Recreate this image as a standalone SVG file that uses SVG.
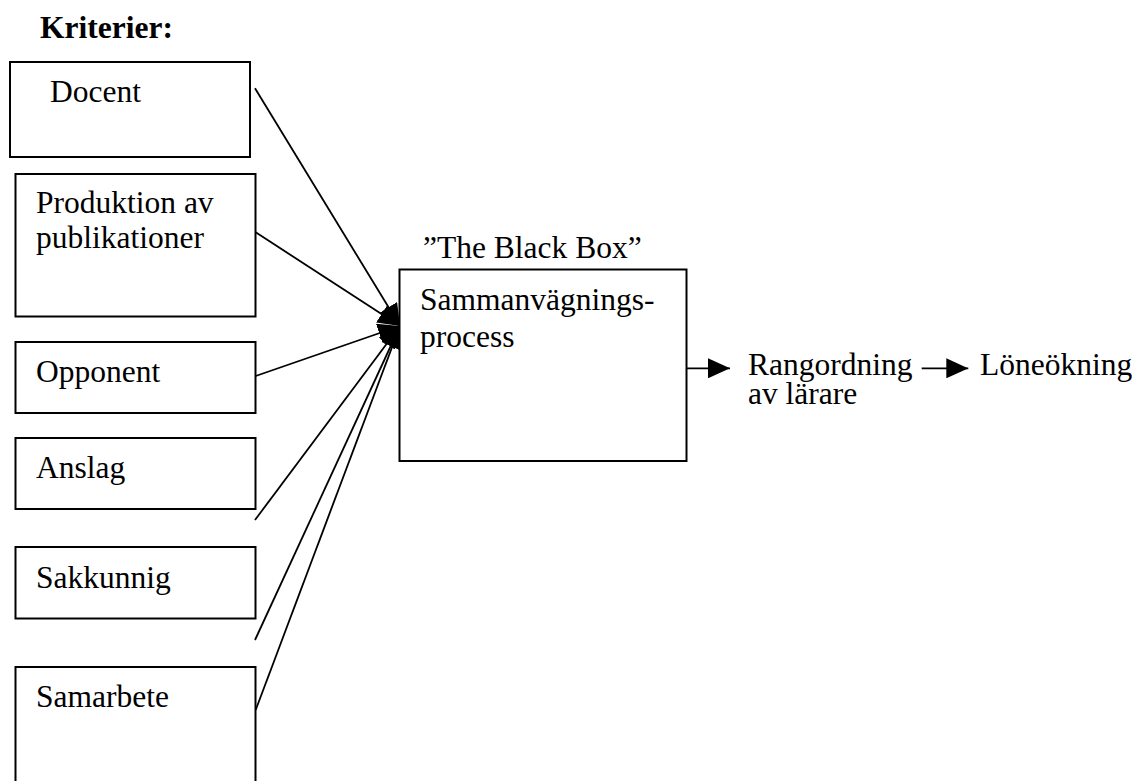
<svg xmlns="http://www.w3.org/2000/svg" width="1137" height="781" viewBox="0 0 1137 781">
  <style>
    .box { fill: #ffffff; stroke: #000000; stroke-width: 2; }
    text { font-family: "Liberation Serif", "Times New Roman", "DejaVu Serif", serif; font-size: 31.5px; fill: #000000; }
    .hdr { font-weight: bold; }
    .conn { stroke: #000000; stroke-width: 1.8; fill: none; marker-end: url(#head); }
  </style>
  <defs>
    <marker id="head" markerUnits="userSpaceOnUse" markerWidth="22" markerHeight="20" refX="22" refY="10" orient="auto">
      <path d="M0,0 L22,10 L0,20 z" fill="#000000"/>
    </marker>
  </defs>
  <rect width="1137" height="781" fill="#ffffff"/>

  <text class="hdr" x="40" y="37.5">Kriterier:</text>

  <!-- connectors from each criterion into the weighting process, plus outputs -->
  <g id="connectors">
    <line class="conn" x1="255" y1="88.3" x2="400" y2="326"/>
    <line class="conn" x1="255.7" y1="232.3" x2="400" y2="326"/>
    <line class="conn" x1="255.7" y1="376" x2="400" y2="326"/>
    <line class="conn" x1="255" y1="520" x2="400" y2="326"/>
    <line class="conn" x1="255" y1="640" x2="400" y2="326"/>
    <line class="conn" x1="255.7" y1="710" x2="400" y2="326"/>
    <line class="conn" x1="681.7" y1="368.3" x2="730" y2="368.3"/>
    <line class="conn" x1="921.7" y1="368.3" x2="968.3" y2="368.3"/>
  </g>

  <g id="docent">
    <rect class="box" x="10" y="62" width="240" height="95"/>
    <text x="50" y="101.7">Docent</text>
  </g>
  <g id="produktion">
    <rect class="box" x="15.5" y="174" width="240" height="142.5"/>
    <text x="36" y="212.7">Produktion av</text>
    <text x="36" y="248">publikationer</text>
  </g>
  <g id="opponent">
    <rect class="box" x="15.5" y="342" width="240" height="71"/>
    <text x="36" y="381.7">Opponent</text>
  </g>
  <g id="anslag">
    <rect class="box" x="15.5" y="438" width="240" height="71"/>
    <text x="36" y="477.7">Anslag</text>
  </g>
  <g id="sakkunnig">
    <rect class="box" x="15.5" y="547" width="240" height="71.5"/>
    <text x="36" y="588.3">Sakkunnig</text>
  </g>
  <g id="samarbete">
    <rect class="box" x="15.5" y="667" width="240" height="140"/>
    <text x="36" y="707.3">Samarbete</text>
  </g>

  <g id="blackbox">
    <text x="423" y="258.3">”The Black Box”</text>
    <rect class="box" x="399.5" y="269.5" width="287" height="191.5"/>
    <text x="420" y="310">Sammanvägnings-</text>
    <text x="420" y="346.7">process</text>
  </g>

  <g id="rangordning">
    <text x="748" y="375">Rangordning</text>
    <text x="748" y="403.5">av lärare</text>
  </g>
  <g id="loneokning">
    <text x="980" y="375">Löneökning</text>
  </g>
</svg>
